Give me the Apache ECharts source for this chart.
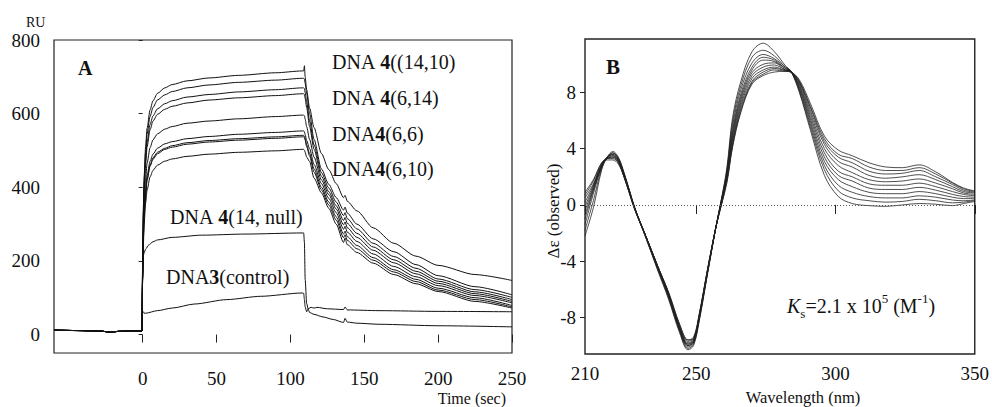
<!DOCTYPE html>
<html><head><meta charset="utf-8">
<script src="https://cdn.jsdelivr.net/npm/echarts@6/dist/echarts.min.js"></script>
<style>html,body{margin:0;padding:0;background:#fff}#c{width:992px;height:407px}</style>
</head><body><div id="c"></div>
<script>
// ================= Panel A : SPR sensorgrams =================
const A_X_TICKS = [0, 50, 100, 150, 200, 250];
const A_Y_TICKS = [0, 200, 400, 600, 800];
const T_BASE  = [-60, -45, -30, -22, -15, -5, -1.5];
const V_BASE  = [12, 11, 10, 7, 9, 10, 10];
const T_ASSOC = [-0.5, 0, 0.5, 1, 2, 3, 5, 7, 10, 15, 20, 30, 45, 65, 90, 108];
const T_DISS  = [109, 109.5, 110, 111, 113, 116, 121, 126, 131, 136, 137, 138.5, 145, 156, 170, 185, 200, 225, 250];

const assoc1 = [10, 200, 350, 430, 510, 560, 610, 635, 655, 670, 679, 689, 697, 704, 711, 716];
const assoc2 = [10, 190, 335, 415, 495, 545, 592, 617, 637, 651, 660, 670, 678, 685, 691, 696];
const assoc3 = [10, 185, 325, 400, 475, 523, 570, 594, 613, 627, 635, 645, 652, 659, 665, 670];
const assoc4 = [10, 180, 315, 390, 462, 510, 556, 580, 598, 612, 620, 629, 637, 643, 649, 654];
const assoc5 = [10, 170, 290, 355, 422, 465, 507, 529, 545, 558, 565, 574, 580, 586, 592, 596];
const assoc6 = [10, 160, 270, 330, 392, 432, 470, 490, 506, 518, 524, 532, 538, 544, 549, 553];
const assoc7 = [10, 158, 265, 325, 384, 422, 460, 480, 495, 506, 513, 521, 527, 532, 537, 541];
const assoc8 = [10, 155, 260, 320, 380, 419, 457, 476, 491, 503, 509, 517, 523, 528, 533, 537];
const assoc9 = [10, 150, 245, 300, 357, 392, 428, 446, 460, 471, 477, 484, 490, 495, 499, 503];

const diss1 = [716, 730, 700, 665, 615, 562, 492, 448, 410, 372, 378, 362, 336, 290, 248, 213, 188, 163, 147];
const diss2 = [696, 694, 682, 655, 600, 530, 450, 408, 372, 338, 346, 330, 300, 260, 225, 190, 160, 130, 108];
const diss3 = [670, 668, 657, 632, 580, 515, 440, 398, 360, 323, 331, 315, 287, 248, 212, 180, 151, 122, 101];
const diss4 = [654, 652, 641, 617, 565, 503, 430, 388, 350, 310, 318, 302, 275, 238, 203, 172, 145, 116, 95];
const diss5 = [596, 594, 585, 565, 530, 482, 420, 380, 341, 298, 306, 290, 264, 229, 195, 165, 139, 111, 90];
const diss6 = [553, 551, 543, 527, 505, 462, 410, 370, 331, 286, 294, 278, 253, 219, 185, 157, 133, 106, 86];
const diss7 = [541, 539, 532, 515, 492, 450, 400, 360, 320, 273, 281, 266, 242, 209, 176, 150, 126, 100, 79];
const diss8 = [537, 535, 528, 510, 485, 441, 393, 352, 311, 263, 271, 256, 233, 202, 170, 144, 121, 95, 75];
const diss9 = [503, 501, 495, 482, 470, 425, 385, 343, 300, 250, 262, 244, 223, 194, 163, 138, 117, 90, 72];

const T_NULL = [-0.5, 0, 0.5, 1, 2, 4, 7, 10, 20, 40, 70, 108, 109, 109.5, 110, 111, 112, 114, 116, 118, 125, 136, 137, 138.5, 160, 200, 250];
const V_NULL = [10, 150, 215, 222, 232, 243, 252, 257, 264, 270, 273, 276, 276, 250, 150, 85, 70, 74, 72, 74, 70, 68, 75, 67, 65, 63, 62];
const T_CTRL = [-0.5, 0, 0.5, 1, 2, 10, 20, 35, 57, 80, 108, 109, 109.5, 110, 111, 112, 113, 116, 122, 129, 136, 137, 138.5, 145, 160, 200, 250];
const V_CTRL = [10, 60, 62, 58, 58, 65, 72, 83, 95, 104, 113, 112, 95, 75, 62, 70, 60, 55, 48, 41, 33, 44, 34, 31, 28, 24, 21];

// ================= Panel B : CD spectra =================
const B_X_TICKS = [210, 250, 300, 350];
const B_Y_TICKS = [-8, -4, 0, 4, 8];
const WL = [210,213,216,218,220,222,224,226,228,232,236,240,244,247,249,251,254,257,259,261,263,266,270,274,278,282,284,287,291,296,301,306,312,318,324,330,336,342,346,350];
const cd0  = [-2.2,-0.2,2.5,3.4,3.8,3.4,2.3,1.0,-0.3,-2.4,-4.6,-6.7,-9.1,-10.3,-10.0,-8.3,-4.9,-1.6,0.4,2.7,6.2,8.8,10.9,11.5,10.9,9.9,9.5,8.0,5.3,2.1,0.6,0.1,-0.05,-0.1,0.0,0.1,0.05,-0.05,0.1,0.25];
const cd1  = [-1.8,0.3,2.6,3.4,3.7,3.3,2.3,1.0,-0.3,-2.4,-4.5,-6.6,-9.0,-10.2,-9.9,-8.2,-4.9,-1.6,0.4,2.5,5.9,8.5,10.5,11.0,10.6,9.8,9.5,8.1,5.5,2.5,1.0,0.5,0.3,0.2,0.25,0.4,0.3,0.15,0.2,0.3];
const cd2  = [-1.4,0.8,2.7,3.4,3.7,3.3,2.2,1.0,-0.3,-2.4,-4.5,-6.5,-8.9,-10.1,-9.8,-8.1,-4.8,-1.6,0.3,2.4,5.6,8.2,10.1,10.7,10.4,9.8,9.5,8.2,5.7,2.8,1.4,0.9,0.6,0.5,0.5,0.65,0.55,0.35,0.3,0.35];
const cd3  = [-1.0,1.0,2.7,3.4,3.6,3.2,2.2,0.9,-0.3,-2.3,-4.4,-6.5,-8.9,-10.0,-9.8,-8.1,-4.8,-1.6,0.3,2.3,5.3,7.9,9.8,10.5,10.3,9.7,9.5,8.3,5.9,3.1,1.8,1.3,0.9,0.8,0.8,0.95,0.8,0.55,0.45,0.45];
const cd4  = [-0.7,1.1,2.8,3.4,3.6,3.2,2.2,0.9,-0.3,-2.3,-4.4,-6.4,-8.8,-10.0,-9.7,-8.0,-4.8,-1.6,0.3,2.2,5.1,7.7,9.6,10.3,10.2,9.7,9.5,8.4,6.1,3.4,2.1,1.7,1.2,1.1,1.1,1.25,1.05,0.75,0.6,0.55];
const cd5  = [-0.4,1.2,2.8,3.4,3.5,3.2,2.1,0.9,-0.3,-2.3,-4.4,-6.4,-8.8,-9.9,-9.7,-8.0,-4.7,-1.6,0.2,2.1,4.9,7.5,9.4,10.0,10.1,9.6,9.5,8.5,6.3,3.7,2.4,2.0,1.5,1.4,1.4,1.55,1.3,0.95,0.75,0.65];
const cd6  = [-0.1,1.3,2.8,3.3,3.5,3.1,2.1,0.9,-0.3,-2.3,-4.3,-6.4,-8.7,-9.9,-9.6,-8.0,-4.7,-1.6,0.2,2.0,4.7,7.3,9.2,9.8,9.95,9.6,9.5,8.6,6.5,4.0,2.8,2.3,1.8,1.65,1.7,1.85,1.55,1.15,0.85,0.75];
const cd7  = [0.2,1.4,2.9,3.3,3.4,3.1,2.1,0.9,-0.3,-2.3,-4.3,-6.3,-8.7,-9.8,-9.6,-7.9,-4.7,-1.6,0.1,1.9,4.5,7.1,9.0,9.6,9.8,9.55,9.45,8.7,6.7,4.3,3.1,2.7,2.1,1.9,2.0,2.15,1.8,1.3,0.95,0.85];
const cd8  = [0.5,1.5,2.9,3.3,3.4,3.0,2.0,0.8,-0.4,-2.3,-4.3,-6.3,-8.6,-9.7,-9.5,-7.9,-4.6,-1.6,0.1,1.8,4.3,6.9,8.8,9.45,9.7,9.55,9.45,8.75,6.9,4.5,3.4,3.0,2.4,2.2,2.25,2.45,2.0,1.45,1.05,0.9];
const cd9  = [0.7,1.7,3.0,3.3,3.3,3.0,2.0,0.8,-0.4,-2.3,-4.3,-6.2,-8.5,-9.6,-9.5,-7.8,-4.6,-1.6,0.0,1.7,4.2,6.7,8.7,9.3,9.6,9.5,9.45,8.8,7.0,4.7,3.6,3.3,2.7,2.45,2.45,2.65,2.2,1.55,1.15,0.95];
const cd10 = [0.9,1.8,3.0,3.2,3.2,2.9,2.0,0.8,-0.4,-2.3,-4.3,-6.2,-8.5,-9.6,-9.4,-7.8,-4.6,-1.6,0.0,1.6,4.1,6.6,8.6,9.2,9.45,9.5,9.45,8.9,7.2,4.9,3.9,3.5,3.0,2.7,2.65,2.85,2.35,1.6,1.2,1.0];

// ================= build =================
const FONT = "'Liberation Serif','Times New Roman',serif";
const pairs = (ts, vs) => ts.map((t, i) => [t, vs[i]]);
const base = pairs(T_BASE, V_BASE);
const spr = [
  [assoc1, diss1], [assoc2, diss2], [assoc3, diss3], [assoc4, diss4], [assoc5, diss5],
  [assoc6, diss6], [assoc7, diss7], [assoc8, diss8], [assoc9, diss9]
];
const lineA = { type: 'line', xAxisIndex: 0, yAxisIndex: 0, symbol: 'none', silent: true,
  smooth: 0.25, smoothMonotone: 'x', lineStyle: { color: '#111', width: 1 } };
const series = [];
spr.forEach((c, i) => {
  series.push(Object.assign({}, lineA, { name: 'DNA4 curve ' + (i + 1),
    data: base.concat(pairs(T_ASSOC, c[0]), pairs(T_DISS, c[1])) }));
});
series.push(Object.assign({}, lineA, { name: 'DNA 4(14, null)', data: base.concat(pairs(T_NULL, V_NULL)) }));
series.push(Object.assign({}, lineA, { name: 'DNA3(control)', data: base.concat(pairs(T_CTRL, V_CTRL)) }));

const cds = [cd0, cd1, cd2, cd3, cd4, cd5, cd6, cd7, cd8, cd9, cd10];
cds.forEach((c, i) => {
  const s = { type: 'line', name: 'CD ' + i, xAxisIndex: 1, yAxisIndex: 1, symbol: 'none', silent: true,
    smooth: 0.35, lineStyle: { color: '#222', width: 0.8 }, data: pairs(WL, c) };
  if (i === 0) s.markLine = { silent: true, symbol: 'none', label: { show: false },
    lineStyle: { color: '#555', type: [1, 2], width: 1 }, data: [{ yAxis: 0 }] };
  series.push(s);
});

const axisTxt = { color: '#111', fontFamily: FONT, fontSize: 19 };
const rich = {
  n: { fontFamily: FONT, fontSize: 20, color: '#111' },
  b: { fontFamily: FONT, fontSize: 20, fontWeight: 'bold', color: '#111' }
};
function lbl(x, y, text) {
  return { type: 'text', x: x, y: y, silent: true,
    style: { text: text, rich: rich, verticalAlign: 'middle', align: 'left', fill: '#111' } };
}

const option = {
  animation: false,
  backgroundColor: '#fff',
  grid: [
    { left: 54, top: 40, width: 458, height: 313, show: true, borderColor: '#222', borderWidth: 1.2, backgroundColor: 'transparent' },
    { left: 585, top: 39, width: 393, height: 315, show: true, borderColor: '#222', borderWidth: 1.4, backgroundColor: 'transparent' }
  ],
  xAxis: [
    { type: 'value', gridIndex: 0, min: -60, max: 250, offset: 2,
      axisLine: { show: false }, splitLine: { show: false },
      axisTick: { show: true, length: 8, customValues: A_X_TICKS, lineStyle: { color: '#222' } },
      axisLabel: { customValues: A_X_TICKS, margin: 14, ...axisTxt } },
    { type: 'value', gridIndex: 1, min: 210, max: 350, offset: 2,
      axisLine: { show: false }, splitLine: { show: false },
      axisTick: { show: true, length: 9, customValues: B_X_TICKS, lineStyle: { color: '#222' } },
      axisLabel: { customValues: B_X_TICKS, margin: 8, ...axisTxt } }
  ],
  yAxis: [
    { type: 'value', gridIndex: 0, min: -50, max: 800,
      axisLine: { show: false }, splitLine: { show: false },
      axisTick: { show: true, length: 4, customValues: A_Y_TICKS, lineStyle: { color: '#222' } },
      axisLabel: { customValues: A_Y_TICKS, margin: 14, ...axisTxt } },
    { type: 'value', gridIndex: 1, min: -10.6, max: 11.8,
      axisLine: { show: false }, splitLine: { show: false },
      axisTick: { show: true, length: 5, customValues: B_Y_TICKS, lineStyle: { color: '#222' } },
      axisLabel: { customValues: B_Y_TICKS, margin: 9, ...axisTxt } }
  ],
  graphic: [
    { type: 'text', x: 26, y: 22, silent: true, style: { text: 'RU', fontFamily: FONT, fontSize: 14, fill: '#111', verticalAlign: 'middle' } },
    { type: 'text', x: 78, y: 68, silent: true, style: { text: 'A', fontFamily: FONT, fontSize: 20, fontWeight: 'bold', fill: '#111', verticalAlign: 'middle' } },
    { type: 'text', x: 606, y: 67, silent: true, style: { text: 'B', fontFamily: FONT, fontSize: 21, fontWeight: 'bold', fill: '#111', verticalAlign: 'middle' } },
    lbl(332, 62, '{n|DNA }{b|4}{n|((14,10)}'),
    lbl(332, 98, '{n|DNA }{b|4}{n|(6,14)}'),
    lbl(332, 134, '{n|DNA}{b|4}{n|(6,6)}'),
    lbl(332, 169, '{n|DNA}{b|4}{n|(6,10)}'),
    lbl(170, 217, '{n|DNA }{b|4}{n|(14, null)}'),
    lbl(166, 277, '{n|DNA}{b|3}{n|(control)}'),
    { type: 'text', x: 506, y: 398, silent: true, style: { text: 'Time (sec)', fontFamily: FONT, fontSize: 16, fill: '#111', align: 'right', verticalAlign: 'middle' } },
    { type: 'text', x: 803, y: 397, silent: true, style: { text: 'Wavelength (nm)', fontFamily: FONT, fontSize: 16.5, fill: '#111', align: 'center', verticalAlign: 'middle' } },
    { type: 'text', x: 553, y: 211, rotation: Math.PI / 2, silent: true, style: { text: 'Δε (observed)', fontFamily: FONT, fontSize: 17, fill: '#111', align: 'center', verticalAlign: 'middle' } },
    { type: 'text', x: 787, y: 306, silent: true, style: {
        text: '{k|K}{s|s}{n|=2.1 x 10}{p|5}{n| (M}{p|-1}{n|)}', align: 'left', verticalAlign: 'middle', fill: '#111',
        rich: {
          k: { fontFamily: FONT, fontSize: 20, fontStyle: 'italic', lineHeight: 28, verticalAlign: 'middle' },
          n: { fontFamily: FONT, fontSize: 20, lineHeight: 28, verticalAlign: 'middle' },
          s: { fontFamily: FONT, fontSize: 13, lineHeight: 13, verticalAlign: 'bottom' },
          p: { fontFamily: FONT, fontSize: 13, lineHeight: 13, verticalAlign: 'top' }
        } } }
  ],
  series: series
};
const chart = echarts.init(document.getElementById('c'), null, { renderer: 'svg' });
chart.setOption(option);
</script></body></html>
